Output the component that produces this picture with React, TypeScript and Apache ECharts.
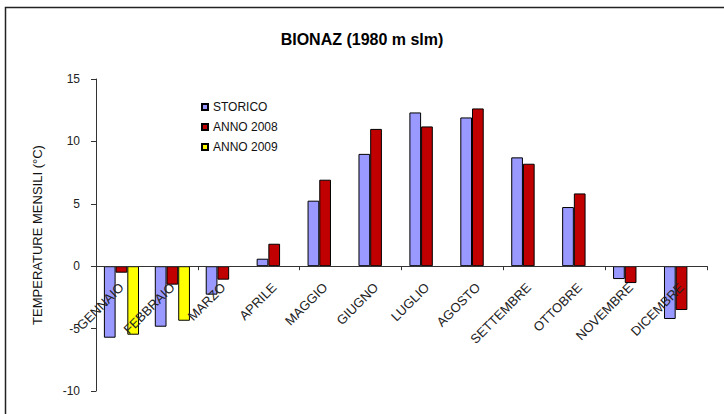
import React, { useEffect, useRef } from "react";
import * as echarts from "echarts";

const months = ["GENNAIO", "FEBBRAIO", "MARZO", "APRILE", "MAGGIO", "GIUGNO", "LUGLIO", "AGOSTO", "SETTEMBRE", "OTTOBRE", "NOVEMBRE", "DICEMBRE"];
const storico = [-5.73, -4.85, -2.28, 0.6, 5.25, 9.0, 12.32, 11.92, 8.72, 4.74, -1.03, -4.23];
const anno2008 = [-0.52, -1.48, -1.08, 1.8, 6.93, 11.0, 11.2, 12.64, 8.21, 5.83, -1.35, -3.51];
const anno2009 = [-5.49, -4.37, null, null, null, null, null, null, null, null, null, null];
const seriesNames = ["STORICO", "ANNO 2008", "ANNO 2009"];
const titleText = "BIONAZ (1980 m slm)";
const yAxisName = "TEMPERATURE MENSILI (°C)";

const FONT = "'Liberation Sans', Arial, sans-serif";
const Y_MIN = -10;
const Y_MAX = 15;
const GRID_TOP = 79;
const GRID_H = 312;

export default function App() {
  const ref = useRef<HTMLDivElement>(null);
  useEffect(() => {
    if (!ref.current) return;
    const chart = echarts.init(ref.current, null, { renderer: "svg" });
    const barStyle = (color: string) => ({ color, borderColor: "#000", borderWidth: 1 });
    // distance from grid bottom up to the zero line
    const zeroOffset = (GRID_H * (0 - Y_MIN)) / (Y_MAX - Y_MIN);
    chart.setOption({
      animation: false,
      backgroundColor: "#fff",
      graphic: [
        {
          type: "rect",
          shape: { x: 5.5, y: 7.5, width: 800, height: 500 },
          style: { fill: "none", stroke: "#222", lineWidth: 1.5 },
          silent: true,
        },
      ],
      title: {
        text: titleText,
        left: "center",
        top: 26,
        textStyle: { fontFamily: FONT, fontSize: 16, fontWeight: "bold", color: "#000" },
      },
      legend: {
        orient: "vertical",
        left: 196,
        top: 96,
        icon: "rect",
        itemWidth: 6,
        itemHeight: 6,
        itemGap: 8,
        data: seriesNames,
        textStyle: { fontFamily: FONT, fontSize: 12, color: "#111", lineHeight: 12 },
      },
      grid: { left: 96, right: 17, top: GRID_TOP, height: GRID_H, containLabel: false, outerBoundsMode: "none" },
      xAxis: [
        {
          type: "category",
          data: months,
          z: 5,
          axisLine: { onZero: true, lineStyle: { color: "#333", width: 1 } },
          axisTick: { show: true, length: 4, lineStyle: { color: "#333" } },
          axisLabel: { show: false },
        },
        {
          type: "category",
          data: months,
          z: 6,
          position: "bottom",
          offset: -zeroOffset,
          axisLine: { show: false, onZero: false },
          axisTick: { show: false },
          axisLabel: { rotate: 45, margin: 19, interval: 0, fontFamily: FONT, fontSize: 13, color: "#222" },
        },
      ],
      yAxis: {
        type: "value",
        min: Y_MIN,
        max: Y_MAX,
        interval: 5,
        name: yAxisName,
        nameLocation: "middle",
        nameRotate: 90,
        nameGap: 52,
        nameTextStyle: { fontFamily: FONT, fontSize: 13, color: "#111" },
        splitLine: { show: false },
        axisLine: { show: true, lineStyle: { color: "#333", width: 1 } },
        axisTick: { show: true, length: 5, lineStyle: { color: "#333" } },
        axisLabel: { margin: 16, fontFamily: FONT, fontSize: 12, color: "#222" },
      },
      series: [
        { name: seriesNames[0], type: "bar", data: storico, itemStyle: barStyle("#9999FF"), barGap: "0%", barCategoryGap: "31%" },
        { name: seriesNames[1], type: "bar", data: anno2008, itemStyle: barStyle("#C00000"), barGap: "0%", barCategoryGap: "31%" },
        { name: seriesNames[2], type: "bar", data: anno2009, itemStyle: barStyle("#FFFF00"), barGap: "0%", barCategoryGap: "31%" },
      ],
    });
    return () => chart.dispose();
  }, []);
  return <div ref={ref} style={{ position: "fixed", left: 0, top: 0, width: 724, height: 414 }} />;
}
